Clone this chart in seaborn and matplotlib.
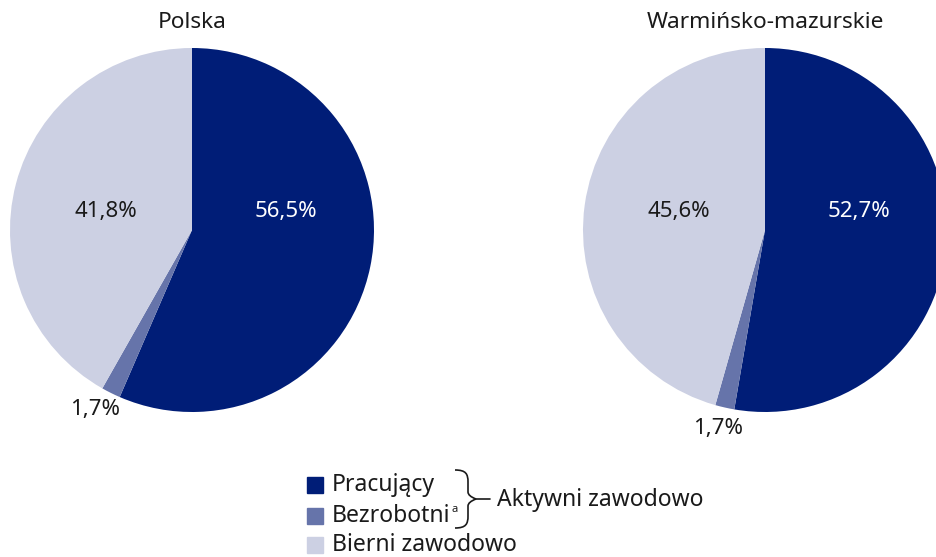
import matplotlib
matplotlib.use("Agg")
import matplotlib.pyplot as plt
import seaborn as sns
from matplotlib.patches import Rectangle, PathPatch
from matplotlib.path import Path

sns.set_theme(style="white")
plt.rcParams['font.family'] = ['Noto Sans', 'DejaVu Sans']

categories = ["Pracujący", "Bezrobotni", "Bierni zawodowo"]
regions = ["Polska", "Warmińsko-mazurskie"]
polska = [56.5, 1.7, 41.8]
warm = [52.7, 1.7, 45.6]
values = [polska, warm]
labels = [["56,5%", "1,7%", "41,8%"], ["52,7%", "1,7%", "45,6%"]]
colors = ["#001d77", "#6674aa", "#ccd0e3"]

W, H = 936, 557
fig = plt.figure(figsize=(W / 100, H / 100), dpi=100)

def fx(x):
    return x / W

def fy(y):
    return 1 - y / H

R = 182
centers = [(192, 230), (765, 230)]
small_pos = [(-0.533, -0.989), (-0.258, -1.088)]
TXT = "#1a1a1a"

for i, (cx, cy) in enumerate(centers):
    ax = fig.add_axes([fx(cx - R), fy(cy + R), 2 * R / W, 2 * R / H])
    ax.pie(values[i], colors=colors, startangle=90, counterclock=False,
           radius=1, wedgeprops=dict(linewidth=0))
    ax.set_xlim(-1, 1)
    ax.set_ylim(-1, 1)
    ax.set_aspect("auto")
    ax.axis("off")
    ax.text(0.515, 0.104, labels[i][0], color="white", fontsize=16, ha="center", va="center")
    ax.text(-0.475, 0.104, labels[i][2], color=TXT, fontsize=16, ha="center", va="center")
    ax.text(small_pos[i][0], small_pos[i][1], labels[i][1], color=TXT, fontsize=16,
            ha="center", va="center", clip_on=False)
    fig.text(fx(cx), fy(23), regions[i], fontsize=16.3, ha="center", va="center", color=TXT)

# legend
rows_y = [485, 516, 545]
for c, name, y in zip(colors, categories, rows_y):
    fig.patches.append(Rectangle((fx(307), fy(y + 8)), 16 / W, 16 / H, color=c,
                                 transform=fig.transFigure, figure=fig))
    fig.text(fx(332), fy(y), name, fontsize=16.5, ha="left", va="center", color=TXT)
fig.text(fx(451), fy(510), "a", fontsize=8, ha="left", va="center", color=TXT)

# brace
verts = [(455, 470), (466, 470), (468, 474), (468, 482),
         (468, 492), (468, 496), (476, 499),
         (468, 502), (468, 506), (468, 516),
         (468, 524), (466, 528), (455, 528)]
codes = [Path.MOVETO, Path.CURVE4, Path.CURVE4, Path.CURVE4,
         Path.LINETO, Path.CURVE3, Path.CURVE3,
         Path.CURVE3, Path.CURVE3, Path.LINETO,
         Path.CURVE4, Path.CURVE4, Path.CURVE4]
path = Path([(fx(x), fy(y)) for x, y in verts], codes)
fig.patches.append(PathPatch(path, facecolor="none", edgecolor=TXT, lw=1.2,
                             transform=fig.transFigure, figure=fig))
fig.lines.append(plt.Line2D([fx(476), fx(490)], [fy(499), fy(499)], color=TXT, lw=1.2,
                            transform=fig.transFigure, figure=fig))
fig.text(fx(497), fy(500), "Aktywni zawodowo", fontsize=16.5, ha="left", va="center", color=TXT)

fig.savefig("out.png", dpi=100, facecolor="white")
